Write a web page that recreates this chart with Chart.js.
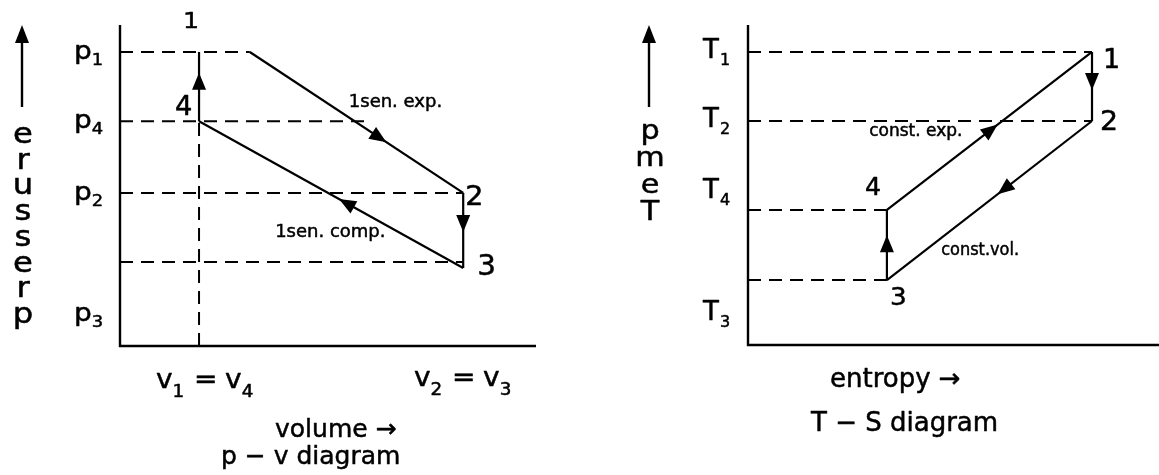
<!DOCTYPE html>
<html>
<head>
<meta charset="utf-8">
<script src="https://cdn.jsdelivr.net/npm/chart.js@4.4.1/dist/chart.umd.min.js"></script>
<style>
  html, body { margin: 0; padding: 0; background: #fff; }
  #wrap { position: relative; width: 1159px; height: 475px; overflow: hidden; }
  canvas { position: absolute; top: 0; }
  #pv { left: 0; }
  #ts { left: 580px; }
</style>
</head>
<body>
<div id="wrap">
  <canvas id="pv" width="580" height="475"></canvas>
  <canvas id="ts" width="579" height="475"></canvas>
</div>
<script>
// ---------- p–v diagram (states 1, 2, 3, 4) ----------
const pvStates   = ['1', '2', '3', '4'];
const pvVolume   = [3.12, 8.25, 8.25, 1.9];
const pvPressure = [9.16, 4.77, 2.43, 7.0];
// dashed pressure levels and the volume each one runs out to
const pvLevels    = [9.16, 7.0, 4.77, 2.62];
const pvLevelEnds = [3.12, 5.96, 8.25, 8.25];
// pressure labels on the left of the axis
const pvTickNames  = ['1', '4', '2', '3'];
const pvTickValues = [9.16, 7.0, 4.77, 1.0];

// ---------- T–S diagram (states 1, 2, 3, 4) ----------
const tsStates  = ['1', '2', '3', '4'];
const tsEntropy = [8.37, 8.37, 3.38, 3.38];
const tsTemp    = [9.16, 7.0, 2.03, 4.22];
const tsTickNames  = ['1', '2', '4', '3'];
const tsTickValues = [9.16, 7.0, 4.78, 0.97];

const FONT = '"DejaVu Sans", Verdana, sans-serif';
const INK = '#000';

function pt(x, y) { return { x, y }; }

// draws a run of text pieces (base text + subscripts) from a left/centre anchor
function drawRich(ctx, parts, x, y, sx, align) {
  ctx.save();
  ctx.translate(x, y);
  ctx.scale(sx, 1);
  ctx.fillStyle = INK;
  ctx.strokeStyle = INK;
  ctx.lineWidth = 0.5;
  ctx.lineJoin = 'round';
  ctx.textBaseline = 'alphabetic';
  ctx.textAlign = 'left';
  let total = 0;
  const widths = parts.map(p => {
    ctx.font = p.size + 'px ' + FONT;
    const w = ctx.measureText(p.t).width + (p.gap || 0);
    total += w;
    return w;
  });
  let cx = align === 'center' ? -total / 2 : 0;
  parts.forEach((p, i) => {
    ctx.font = p.size + 'px ' + FONT;
    ctx.fillText(p.t, cx, p.dy || 0);
    ctx.strokeText(p.t, cx, p.dy || 0);
    cx += widths[i];
  });
  ctx.restore();
}

function arrowHead(ctx, x, y, dx, dy, len, half) {
  const d = Math.hypot(dx, dy) || 1;
  const ux = dx / d, uy = dy / d;
  const bx = x - ux * len, by = y - uy * len;
  ctx.beginPath();
  ctx.moveTo(x, y);
  ctx.lineTo(bx - uy * half, by + ux * half);
  ctx.lineTo(bx + uy * half, by - ux * half);
  ctx.closePath();
  ctx.fillStyle = INK;
  ctx.fill();
}

// arrowheads on process lines: dataset.arrowAt = fraction along the segment
const arrowPlugin = {
  id: 'processArrows',
  afterDatasetsDraw(chart) {
    const ctx = chart.ctx;
    chart.data.datasets.forEach((ds, i) => {
      if (ds.arrowAt === undefined) return;
      const pts = chart.getDatasetMeta(i).data;
      const a = pts[0], b = pts[1];
      const t = ds.arrowAt;
      const x = a.x + (b.x - a.x) * t, y = a.y + (b.y - a.y) * t;
      arrowHead(ctx, x, y, b.x - a.x, b.y - a.y, 17, 7);
    });
  }
};

// text: state numbers, level labels, axis captions
const textPlugin = {
  id: 'diagramText',
  afterDraw(chart) {
    const ctx = chart.ctx;
    const o = chart.options.plugins.diagramText;
    const xs = chart.scales.x, ys = chart.scales.y;
    o.states.forEach(s => {
      drawRich(ctx, [{ t: s.t, size: s.size }], xs.getPixelForValue(s.x) + s.dx, ys.getPixelForValue(s.y) + s.dy, s.sx || 1);
    });
    o.ticks.forEach(k => {
      drawRich(ctx, [{ t: k.base, size: k.size, gap: k.gap || 0 }, { t: k.sub, size: k.subSize, dy: k.subDy }],
        k.left, ys.getPixelForValue(k.y) + k.dy, k.sx);
    });
    o.notes.forEach(n => {
      drawRich(ctx, [{ t: n.t, size: n.size }], xs.getPixelForValue(n.x), ys.getPixelForValue(n.y), n.sx || 1);
    });
    o.captions.forEach(c => drawRich(ctx, c.parts, c.x, c.y, c.sx, c.align));
    // axis word stacked letter by letter, with its upward arrow
    const v = o.vertical;
    ctx.save();
    ctx.strokeStyle = INK; ctx.lineWidth = 2.4;
    ctx.beginPath(); ctx.moveTo(v.x, v.arrowBottom); ctx.lineTo(v.x, v.arrowTop + 12); ctx.stroke();
    ctx.restore();
    arrowHead(ctx, v.x, v.arrowTop, 0, -1, 18, 7);
    v.letters.forEach((L, i) => drawRich(ctx, [{ t: L, size: v.size }], v.x + 1, v.first + i * v.step, v.sx, 'center'));
  }
};

function line(points, opts) {
  return Object.assign({
    data: points, showLine: true, borderColor: INK, borderWidth: 2.2,
    pointRadius: 0, fill: false, clip: false, tension: 0
  }, opts || {});
}

function baseOptions(pad, text) {
  return {
    responsive: false, animation: false, devicePixelRatio: 1,
    layout: { padding: pad },
    scales: {
      x: { type: 'linear', min: 0, max: 10, display: false },
      y: { type: 'linear', min: 0, max: 10, display: false }
    },
    plugins: { legend: { display: false }, tooltip: { enabled: false }, diagramText: text },
    events: []
  };
}

const DASH = [13, 8];
const DASHED = { borderDash: DASH, borderWidth: 2 };
const AXIS = { borderWidth: 2.4 };

// ----- p–v chart -----
const pvSets = [];
pvSets.push(line([pt(0, 10), pt(0, 0), pt(10, 0)], AXIS));
pvLevels.forEach((p, i) => pvSets.push(line([pt(0, p), pt(pvLevelEnds[i], p)], DASHED)));
pvSets.push(line([pt(pvVolume[3], 0), pt(pvVolume[3], pvPressure[3])], DASHED));
// processes 1→2, 2→3, 3→4, 4→1
pvSets.push(line([pt(pvVolume[0], pvPressure[0]), pt(pvVolume[1], pvPressure[1])], { arrowAt: 0.64 }));
pvSets.push(line([pt(pvVolume[1], pvPressure[1]), pt(pvVolume[2], pvPressure[2])], { arrowAt: 0.52 }));
pvSets.push(line([pt(pvVolume[2], pvPressure[2]), pt(pvVolume[3], pvPressure[3])], { arrowAt: 0.47 }));
pvSets.push(line([pt(pvVolume[3], pvPressure[3]), pt(pvVolume[3], pvPressure[0])], { arrowAt: 0.70 }));

const vEq = (a, b) => [
  { t: 'v', size: 26 }, { t: a, size: 17, dy: 9, gap: 9 },
  { t: '=', size: 26, gap: 7 }, { t: 'v', size: 26 }, { t: b, size: 17, dy: 9 }
];

const pvText = {
  states: [
    { t: pvStates[0], x: pvVolume[3], y: pvPressure[0], dx: -16, dy: -24, size: 22, sx: 1.15 },
    { t: pvStates[1], x: pvVolume[1], y: pvPressure[1], dx: 2, dy: 12, size: 26, sx: 1.1 },
    { t: pvStates[2], x: pvVolume[2], y: pvPressure[2], dx: 14, dy: 7, size: 28, sx: 1.05 },
    { t: pvStates[3], x: pvVolume[3], y: pvPressure[3], dx: -24, dy: -6, size: 26, sx: 1.05 }
  ],
  ticks: pvTickNames.map((n, i) => ({ base: 'p', sub: n, y: pvTickValues[i], left: 74, dy: 7, subDy: 6, size: 25, subSize: 16, sx: 1.12 })),
  notes: [
    { t: '1sen. exp.', x: 5.5, y: 7.45, size: 18, sx: 1.0 },
    { t: '1sen. comp.', x: 3.73, y: 3.41, size: 18, sx: 1.0 }
  ],
  captions: [
    { parts: vEq('1', '4'), x: 156, y: 388, sx: 1.08 },
    { parts: vEq('2', '3'), x: 414, y: 386, sx: 1.08 },
    { parts: [{ t: 'volume →', size: 25 }], x: 275, y: 437, sx: 1.0 },
    { parts: [{ t: 'p − v diagram', size: 25 }], x: 221, y: 464, sx: 1.0 }
  ],
  vertical: { x: 22, arrowTop: 25, arrowBottom: 107, letters: ['e', 'r', 'u', 's', 's', 'e', 'r', 'p'], first: 143, step: 25.7, size: 28, sx: 1.15 }
};

new Chart(document.getElementById('pv'), {
  type: 'scatter',
  data: { datasets: pvSets },
  options: baseOptions({ left: 120, top: 25, right: 44, bottom: 129 }, pvText),
  plugins: [arrowPlugin, textPlugin]
});

// ----- T–S chart -----
const tsSets = [];
tsSets.push(line([pt(0, 10), pt(0, 0), pt(10, 0)], AXIS));
[tsTemp[0], tsTemp[1]].forEach(T => tsSets.push(line([pt(0, T), pt(tsEntropy[0], T)], DASHED)));
[tsTemp[3], tsTemp[2]].forEach(T => tsSets.push(line([pt(0, T), pt(tsEntropy[2], T)], DASHED)));
// processes 4→1, 1→2, 2→3, 3→4
tsSets.push(line([pt(tsEntropy[3], tsTemp[3]), pt(tsEntropy[0], tsTemp[0])], { arrowAt: 0.54 }));
tsSets.push(line([pt(tsEntropy[0], tsTemp[0]), pt(tsEntropy[1], tsTemp[1])], { arrowAt: 0.55 }));
tsSets.push(line([pt(tsEntropy[1], tsTemp[1]), pt(tsEntropy[2], tsTemp[2])], { arrowAt: 0.46 }));
tsSets.push(line([pt(tsEntropy[2], tsTemp[2]), pt(tsEntropy[3], tsTemp[3])], { arrowAt: 0.64 }));

const tsText = {
  states: [
    { t: tsStates[0], x: tsEntropy[0], y: tsTemp[0], dx: 11, dy: 16, size: 27, sx: 1.0 },
    { t: tsStates[1], x: tsEntropy[1], y: tsTemp[1], dx: 8, dy: 9, size: 27, sx: 1.05 },
    { t: tsStates[2], x: tsEntropy[2], y: tsTemp[2], dx: 3, dy: 25, size: 25, sx: 1.05 },
    { t: tsStates[3], x: tsEntropy[3], y: tsTemp[3], dx: -22, dy: -15, size: 24, sx: 1.05 }
  ],
  ticks: tsTickNames.map((n, i) => ({ base: 'T', sub: n, y: tsTickValues[i], left: 123, dy: 6, subDy: 7, size: 26, subSize: 16, sx: 1.0, gap: 1 })),
  notes: [
    { t: 'const. exp.', x: 2.95, y: 6.53, size: 17, sx: 1.0 },
    { t: 'const.vol.', x: 4.7, y: 2.81, size: 17, sx: 0.95 }
  ],
  captions: [
    { parts: [{ t: 'entropy →', size: 26 }], x: 250, y: 387, sx: 1.0 },
    { parts: [{ t: 'T − S diagram', size: 26 }], x: 231, y: 431, sx: 1.0 }
  ],
  vertical: { x: 69, arrowTop: 25, arrowBottom: 107, letters: ['p', 'm', 'e', 'T'], first: 139, step: 27, size: 27, sx: 1.12 }
};

new Chart(document.getElementById('ts'), {
  type: 'scatter',
  data: { datasets: tsSets },
  options: baseOptions({ left: 168, top: 25, right: 0, bottom: 130 }, tsText),
  plugins: [arrowPlugin, textPlugin]
});
</script>
</body>
</html>
